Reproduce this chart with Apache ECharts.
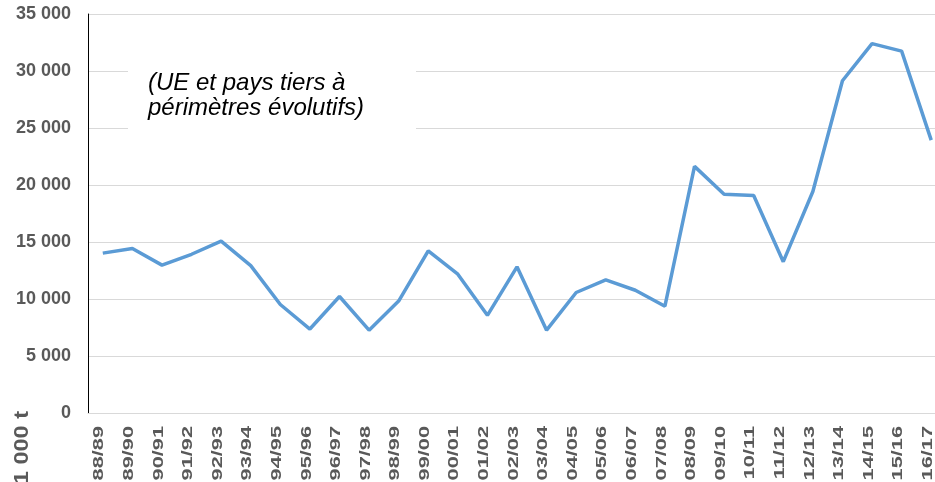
<!DOCTYPE html>
<html>
<head>
<meta charset="utf-8">
<script src="https://cdn.jsdelivr.net/npm/echarts@6/dist/echarts.min.js"></script>
<style>
html,body{margin:0;padding:0;background:#fff;overflow:hidden;}
#c{width:946px;height:482px;}
</style>
</head>
<body>
<div id="c"></div>
<script>
const categories = ['88/89','89/90','90/91','91/92','92/93','93/94','94/95','95/96','96/97','97/98','98/99','99/00','00/01','01/02','02/03','03/04','04/05','05/06','06/07','07/08','08/09','09/10','10/11','11/12','12/13','13/14','14/15','15/16','16/17'];
const values = [14050,14450,13000,13950,15100,12950,9550,7400,10250,7300,9850,14250,12200,8600,12850,7300,10600,11700,10800,9400,21650,19200,19100,13300,19450,29150,32400,31750,23950];
const yMin = 0, yMax = 35000, yInterval = 5000;
const unitLabel = '1 000 t';
const noteLines = ['(UE et pays tiers à', 'périmètres évolutifs)'];

const chart = echarts.init(document.getElementById('c'));
const baseGraphic = [
  {type: 'rect', shape: {x: 128, y: 58, width: 288, height: 74}, style: {fill: '#fff'}, z: 100},
  {type: 'text', x: 148, y: 71, z: 101, style: {text: noteLines.join('\n'), font: 'italic 24px "Liberation Sans"', fill: '#000', lineHeight: 25}},
  {type: 'text', x: 22, y: 411, rotation: Math.PI/2, scaleX: 1.12, z: 101, style: {text: unitLabel, font: 'bold 21px "Liberation Sans"', fill: '#595959', align: 'right', verticalAlign: 'middle'}}
];
chart.setOption({
  animation: false,
  grid: {left: 88, top: 14, bottom: 68.5, right: 0, containLabel: false},
  xAxis: {
    type: 'category',
    data: categories,
    boundaryGap: true,
    axisLine: {show: true, lineStyle: {color: '#d9d9d9', width: 1}},
    axisTick: {show: false},
    axisLabel: {show: false}
  },
  yAxis: {
    type: 'value',
    min: yMin, max: yMax, interval: yInterval,
    axisLine: {show: true, lineStyle: {color: '#000', width: 1}},
    axisTick: {show: false},
    splitLine: {lineStyle: {color: '#d9d9d9', width: 1}},
    axisLabel: {
      fontFamily: 'Liberation Sans', fontWeight: 'bold', fontSize: 18, color: '#595959', margin: 17,
      formatter: v => String(v).replace(/\B(?=(\d{3})+(?!\d))/g, ' ')
    }
  },
  series: [{
    type: 'line',
    data: values,
    showSymbol: false,
    symbol: 'none',
    lineStyle: {color: '#5B9BD5', width: 3.5},
    itemStyle: {color: '#5B9BD5'}
  }],
  graphic: baseGraphic
});
// category labels placed with the library's own x scale
const labelGraphics = categories.map(c => {
  const px = chart.convertToPixel({xAxisIndex: 0}, c);
  return {type: 'text', x: px - 3.5, y: 426, rotation: Math.PI/2, scaleX: 1.45, z: 101,
    style: {text: c, font: 'bold 15px "Liberation Sans"', fill: '#595959', align: 'right', verticalAlign: 'middle'}};
});
chart.setOption({graphic: baseGraphic.concat(labelGraphics)});
</script>
</body>
</html>
